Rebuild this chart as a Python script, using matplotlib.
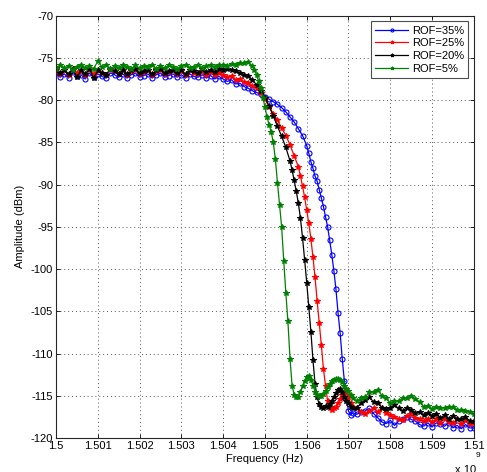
import matplotlib
matplotlib.use("Agg")
import matplotlib.pyplot as plt
from matplotlib.ticker import FuncFormatter, MultipleLocator
import numpy as np

plt.rcParams['font.family'] = ['Liberation Sans', 'DejaVu Sans']

# frequency grids, MHz above 1500 MHz
flat_mhz = [0.0, 0.1, 0.2, 0.3, 0.4, 0.5, 0.6, 0.7, 0.8, 0.9,
            1.0, 1.1, 1.2, 1.3, 1.4, 1.5, 1.6, 1.7, 1.8, 1.9,
            2.0, 2.1, 2.2, 2.3, 2.4, 2.5, 2.6, 2.7, 2.8, 2.9,
            3.0, 3.1, 3.2, 3.3, 3.4, 3.5, 3.6, 3.7, 3.8, 3.9]
tail_mhz = [7.2, 7.3, 7.4, 7.5, 7.6, 7.7, 7.8, 7.9, 8.0, 8.1,
            8.2, 8.3, 8.4, 8.5, 8.6, 8.7, 8.8, 8.9, 9.0, 9.1,
            9.2, 9.3, 9.4, 9.5, 9.6, 9.7, 9.8, 9.9, 10.0]

# ROF = 35 %
blue_flat = [-76.8, -77.3, -76.9, -77.4, -76.7, -77.2, -77.0, -77.5, -76.8, -77.3,
             -76.9, -77.2, -77.4, -76.8, -77.0, -77.3, -76.9, -77.4, -77.0, -76.8,
             -77.3, -77.1, -76.9, -77.4, -77.0, -76.8, -77.3, -77.1, -76.9, -77.3,
             -77.0, -77.4, -76.9, -77.2, -77.3, -77.0, -77.4, -77.1, -77.5, -77.2]
blue_edge_mhz = [4.0, 4.1, 4.2, 4.3, 4.4, 4.5, 4.6, 4.7, 4.8, 4.9,
                 5.0, 5.1, 5.2, 5.3, 5.4, 5.5, 5.6, 5.7, 5.8, 5.9,
                 6.0, 6.05, 6.1, 6.15, 6.2, 6.25, 6.3, 6.35, 6.4, 6.45,
                 6.5, 6.55, 6.6, 6.65, 6.7, 6.75, 6.8, 6.85, 6.9, 6.95,
                 7.0, 7.05, 7.1]
blue_edge = [-77.5, -77.8, -77.6, -78.1, -78.0, -78.4, -78.6, -78.9, -79.1, -79.3,
             -79.6, -79.9, -80.2, -80.5, -80.9, -81.4, -82.0, -82.6, -83.4, -84.2,
             -85.4, -86.3, -87.3, -88.1, -89.0, -89.6, -90.6, -91.6, -92.6, -93.8,
             -95.0, -96.6, -98.3, -100.2, -102.4, -105.2, -107.6, -110.6, -113.2, -115.4,
             -116.8, -117.3, -117.0]
blue_tail = [-117.2, -116.9, -116.8, -116.5, -117.1, -117.6, -118.1, -118.3, -117.9, -118.5,
             -118.0, -117.7, -117.5, -117.8, -118.0, -118.4, -118.6, -118.2, -118.7, -118.2,
             -118.4, -118.6, -118.2, -118.8, -118.5, -118.9, -118.4, -118.8, -118.8]

# ROF = 25 %
red_flat = [-76.4, -76.9, -76.5, -77.0, -76.3, -76.8, -76.6, -77.0, -76.4, -76.9,
            -76.5, -76.8, -77.0, -76.4, -76.6, -76.9, -76.5, -77.0, -76.6, -76.4,
            -76.9, -76.7, -76.5, -77.0, -76.6, -76.4, -76.9, -76.7, -76.5, -76.9,
            -76.6, -77.0, -76.5, -76.8, -76.9, -76.6, -77.0, -76.7, -77.0, -76.8]
red_edge_mhz = [4.0, 4.1, 4.2, 4.3, 4.4, 4.5, 4.6, 4.7, 4.8, 4.9,
                5.0, 5.1, 5.2, 5.3, 5.4, 5.5, 5.6, 5.7, 5.8, 5.85,
                5.9, 5.95, 6.0, 6.05, 6.1, 6.15, 6.2, 6.25, 6.3, 6.35,
                6.4, 6.45, 6.5, 6.55, 6.6, 6.65, 6.7, 6.75, 6.8, 6.85,
                6.9, 6.95, 7.0, 7.05, 7.1]
red_edge = [-77.0, -77.3, -77.2, -77.6, -77.5, -77.9, -78.0, -78.3, -78.6, -79.2,
            -79.9, -80.8, -81.6, -82.4, -83.3, -84.2, -85.3, -86.6, -87.9, -89.0,
            -90.2, -91.5, -93.0, -94.6, -96.4, -98.6, -101.0, -103.8, -106.4, -109.0,
            -111.8, -113.8, -115.6, -116.5, -116.7, -116.5, -116.3, -115.9, -115.4, -114.9,
            -114.6, -114.5, -115.2, -115.9, -116.3]
red_tail = [-116.5, -116.9, -117.1, -116.8, -116.5, -116.9, -116.4, -117.0, -117.3, -117.5,
            -117.7, -117.9, -117.4, -117.2, -117.6, -117.8, -118.0, -117.7, -118.1, -117.8,
            -118.2, -117.7, -118.1, -118.2, -117.8, -118.3, -117.9, -118.4, -118.2]

# ROF = 20 %
black_flat = [-76.2, -76.8, -76.4, -76.9, -76.3, -77.3, -76.5, -76.9, -76.3, -77.4,
              -76.5, -76.8, -77.0, -76.3, -76.6, -76.9, -76.4, -76.9, -76.5, -76.3,
              -76.8, -76.6, -76.4, -76.9, -76.5, -76.3, -76.8, -76.6, -76.4, -76.8,
              -76.5, -76.9, -76.4, -76.6, -76.8, -76.3, -76.7, -76.4, -76.7, -76.3]
black_edge_mhz = [4.0, 4.1, 4.2, 4.3, 4.4, 4.5, 4.6, 4.7, 4.8, 4.9,
                  5.0, 5.1, 5.2, 5.3, 5.4, 5.5, 5.6, 5.65, 5.7, 5.75,
                  5.8, 5.85, 5.9, 5.95, 6.0, 6.05, 6.1, 6.15, 6.2, 6.25,
                  6.3, 6.35, 6.4, 6.45, 6.5, 6.55, 6.6, 6.65, 6.7, 6.75,
                  6.8, 6.85, 6.9, 6.95, 7.0, 7.05, 7.1]
black_edge = [-76.4, -76.3, -76.5, -76.6, -76.8, -77.0, -77.2, -77.6, -78.2, -78.9,
              -79.7, -80.7, -81.9, -83.1, -84.3, -85.6, -87.2, -88.3, -89.5, -90.8,
              -92.2, -94.0, -96.3, -98.9, -101.6, -104.5, -107.4, -110.8, -113.6, -115.2,
              -116.0, -116.3, -116.4, -116.2, -116.3, -116.0, -115.6, -115.2, -114.7, -114.3,
              -114.2, -114.6, -115.2, -115.6, -115.9, -116.3, -116.5]
black_tail = [-116.4, -115.9, -115.5, -115.2, -115.7, -115.9, -116.4, -116.6, -116.4, -116.1,
              -116.5, -116.8, -116.4, -116.7, -117.0, -116.9, -117.3, -117.0, -117.4, -117.1,
              -117.6, -117.3, -117.7, -117.4, -117.8, -117.8, -117.5, -118.0, -118.0]

# ROF = 5 %
green_flat = [-76.3, -75.9, -76.2, -76.0, -76.4, -76.1, -75.8, -76.2, -76.0, -76.3,
              -75.4, -76.1, -75.9, -76.3, -76.0, -76.2, -75.8, -76.1, -76.3, -75.9,
              -76.2, -76.0, -76.1, -75.8, -76.3, -76.0, -76.2, -75.9, -76.1, -76.3,
              -76.0, -75.8, -76.2, -76.1, -75.9, -76.2, -76.0, -75.9, -76.1, -75.8]
green_edge_mhz = [4.0, 4.1, 4.2, 4.3, 4.4, 4.5, 4.6, 4.7, 4.75, 4.8,
                  4.85, 4.9, 4.95, 5.0, 5.05, 5.1, 5.15, 5.2, 5.25, 5.3,
                  5.35, 5.4, 5.45, 5.5, 5.55, 5.6, 5.65, 5.7, 5.75, 5.8,
                  5.85, 5.9, 5.95, 6.0, 6.05, 6.1, 6.15, 6.2, 6.25, 6.3,
                  6.35, 6.4, 6.45, 6.5, 6.55, 6.6, 6.65, 6.7, 6.75, 6.8,
                  6.85, 6.9, 6.95, 7.0, 7.05, 7.1]
green_edge = [-75.9, -76.0, -75.7, -75.8, -75.6, -75.6, -75.5, -76.0, -76.5, -77.0,
              -77.8, -78.6, -79.7, -80.8, -82.0, -82.9, -83.8, -85.0, -87.0, -89.8,
              -92.4, -95.0, -99.0, -102.8, -106.2, -110.6, -113.8, -114.9, -115.2, -115.1,
              -114.6, -113.9, -113.2, -112.8, -112.7, -113.1, -113.8, -114.5, -114.9, -115.0,
              -115.0, -114.8, -114.4, -114.0, -113.6, -113.3, -113.1, -113.0, -113.0, -113.1,
              -113.4, -113.8, -114.2, -114.4, -114.9, -115.3]
green_tail = [-115.6, -115.3, -115.1, -114.6, -114.5, -114.3, -115.0, -115.3, -115.9, -115.6,
              -115.6, -115.3, -115.3, -115.0, -115.4, -115.7, -116.3, -116.2, -116.6, -116.3,
              -116.4, -116.4, -116.3, -116.3, -116.7, -116.7, -116.8, -116.9, -117.1]

labels = ['ROF=35%', 'ROF=25%', 'ROF=20%', 'ROF=5%']

series = [
    (blue_flat, blue_edge_mhz, blue_edge, blue_tail, 'b', 'o', 3.6),
    (red_flat, red_edge_mhz, red_edge, red_tail, 'r', '*', 4.2),
    (black_flat, black_edge_mhz, black_edge, black_tail, 'k', '*', 4.2),
    (green_flat, green_edge_mhz, green_edge, green_tail, (0, 0.5, 0), '*', 4.2),
]

fig = plt.figure(figsize=(4.87, 4.72), dpi=100)
ax = fig.add_axes([0.115, 0.072, 0.858, 0.895])

for (flat, edge_mhz, edge, tail, color, marker, ms), label in zip(series, labels):
    mhz = np.array(flat_mhz + edge_mhz + tail_mhz)
    amp = np.array(flat + edge + tail)
    freq = 1.5e9 + mhz * 1e6
    ax.plot(freq, amp, color=color, lw=0.9, marker=marker, ms=ms,
            mfc='none' if marker == 'o' else color, mew=0.8, label=label)

ax.set_xlim(1.5e9, 1.51e9)
ax.set_ylim(-120, -70)
ax.xaxis.set_major_locator(MultipleLocator(1e6))
ax.yaxis.set_major_locator(MultipleLocator(5))
ax.xaxis.set_major_formatter(FuncFormatter(lambda v, p: '%g' % round(v / 1e9, 4)))
ax.yaxis.set_major_formatter(FuncFormatter(lambda v, p: '%d' % v))
ax.tick_params(direction='in', length=3, width=0.6, labelsize=8,
               top=True, right=True, pad=2)
ax.grid(True, color='0.35', linestyle=(0, (1, 3)), linewidth=0.7)
for sp in ax.spines.values():
    sp.set_linewidth(0.8)
    sp.set_color('0.15')

ax.set_xlabel('Frequency (Hz)', fontsize=8, labelpad=2)
ax.set_ylabel('Amplitude (dBm)', fontsize=8, labelpad=4)

leg = ax.legend(loc='upper right', fontsize=8, fancybox=False, framealpha=1,
                edgecolor='0.3', handlelength=3.0, handletextpad=0.3,
                labelspacing=0.25, borderpad=0.4, borderaxespad=0.5,
                markerscale=0.6)
leg.get_frame().set_linewidth(0.8)

fig.text(0.982, 0.034, '9', fontsize=6, ha='center', va='center')
fig.text(0.935, 0.004, 'x 10', fontsize=8, ha='left', va='center')

fig.savefig('out.png', dpi=100)
